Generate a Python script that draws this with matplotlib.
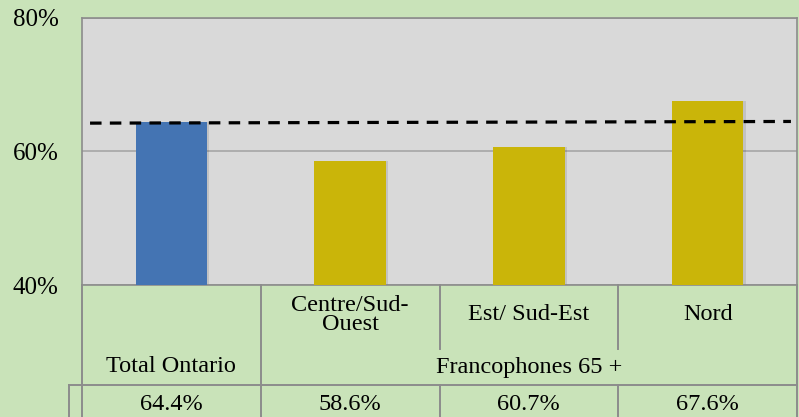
import numpy as np
import matplotlib.pyplot as plt

# ---- data
categories = ["Total Ontario", "Centre/Sud-\nOuest", "Est/ Sud-Est", "Nord"]
values = [64.4, 58.6, 60.7, 67.6]
value_labels = ["64.4%", "58.6%", "60.7%", "67.6%"]
group_label = "Francophones 65 +"
ref_line = [64.25, 64.5]          # dashed Ontario reference (slightly tilted in source)
yticks = [40, 60, 80]

BG = "#c9e3b9"
PLOT_BG = "#d9d9d9"
GRID = "#a6a6a6"
EDGE = "#8c8c8c"
BLUE = "#4474b3"
GOLD = "#cab509"

plt.rcParams["font.family"] = ["Liberation Serif", "DejaVu Serif"]

W, H = 799, 417
fig = plt.figure(figsize=(W / 100, H / 100), dpi=100, facecolor=BG)

# plot area in pixels: x 82..797, y 18..285
x0, x1, ytop, ybot = 82, 797, 18, 285
ax = fig.add_axes([x0 / W, (H - ybot) / H, (x1 - x0) / W, (ybot - ytop) / H])
ax.set_facecolor(PLOT_BG)

n = len(values)
xs = np.arange(n)
colors = [BLUE] + [GOLD] * (n - 1)

# soft shadow then bars
ax.bar(xs + 0.012, np.array(values) - 40, bottom=40, width=0.40,
       color="#000000", alpha=0.10, zorder=2)
ax.bar(xs, np.array(values) - 40, bottom=40, width=0.40, color=colors, zorder=3)

ax.plot([-0.455, 3.466], ref_line, color="black", lw=2.3,
        dashes=(3.6, 2.6), zorder=4, solid_capstyle="butt")

ax.set_xlim(-0.5, n - 0.5)
ax.set_ylim(40, 80)
ax.set_yticks(yticks)
ax.set_yticklabels([f"{v}%" for v in yticks], fontsize=18)
ax.tick_params(axis="y", length=0, pad=17)
ax.set_xticks([])
ax.yaxis.grid(True, color=GRID, lw=1.2, zorder=1)
ax.set_axisbelow(True)
for s in ax.spines.values():
    s.set_color(EDGE)
    s.set_linewidth(1.2)

# ---- table below the plot (drawn in figure pixel coordinates)
def px(x, y):
    return x / W, 1 - y / H

def line(xa, ya, xb, yb):
    (fa, ga), (fb, gb) = px(xa, ya), px(xb, yb)
    fig.add_artist(plt.Line2D([fa, fb], [ga, gb], color=EDGE, lw=1.4))

cw = (x1 - x0) / n
bounds = [x0 + i * cw for i in range(n + 1)]
r0, r1, r2, r3 = 285, 349, 385, 417

line(bounds[0], r0, bounds[0], r3)
line(bounds[1], r0, bounds[1], r3)
line(bounds[-1], r0, bounds[-1], r3)
for b in bounds[2:-1]:
    line(b, r0, b, r1)
    line(b, r2, b, r3)
line(69, r2, x1, r2)
line(69, r2, 69, r3)

fs = 17.5
for i, c in enumerate(categories[1:], start=1):
    cx = (bounds[i] + bounds[i + 1]) / 2
    fig.text(*px(cx, 315), c, ha="center", va="center", fontsize=fs,
             linespacing=0.85)
fig.text(*px((bounds[0] + bounds[1]) / 2, 367), categories[0],
         ha="center", va="center", fontsize=fs)
fig.text(*px((bounds[1] + bounds[-1]) / 2, 367), group_label,
         ha="center", va="center", fontsize=fs)
for i, v in enumerate(value_labels):
    cx = (bounds[i] + bounds[i + 1]) / 2
    fig.text(*px(cx, 404), v, ha="center", va="center", fontsize=fs)

fig.savefig("out.png", dpi=100, facecolor=BG)
